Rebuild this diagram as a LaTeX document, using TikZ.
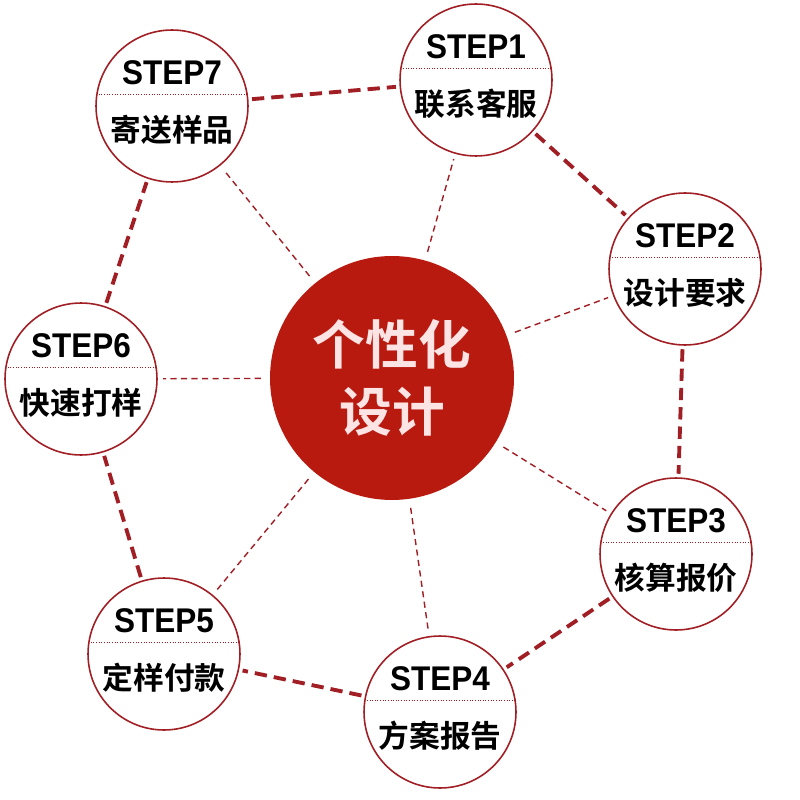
\documentclass[tikz,border=0pt]{standalone}
\usepackage{fontspec}
\setmainfont{Liberation Sans}
\newfontfamily\steptitlefont{Liberation Sans}[FakeStretch=0.92]
\newfontfamily\cjk{Noto Sans CJK SC}[BoldFont={* Bold}]
\usetikzlibrary{calc}
\definecolor{hubred}{RGB}{184,26,16}
\definecolor{ringred}{RGB}{160,30,36}
\definecolor{hubtext}{RGB}{252,228,228}
\tikzset{
stepcircle/.style={circle,draw=ringred,line width=0.9pt,fill=white,minimum size=3.04cm,inner sep=0pt},
hubcircle/.style={circle,fill=hubred,minimum size=4.88cm,inner sep=0pt,align=center,text=hubtext,font=\fontsize{30}{38}\selectfont\cjk\bfseries},
steptitle/.style={font=\fontsize{19.5}{19.5}\selectfont\steptitlefont\bfseries,inner sep=0pt},
stepname/.style={font=\fontsize{17.5}{17.5}\selectfont\cjk\bfseries,inner sep=0pt},
stepdiv/.style={ringred,line width=0.5pt,densely dotted},
ringlink/.style={ringred,line width=2.2pt,dash pattern=on 7pt off 4pt,shorten <=2pt,shorten >=2pt},
spokelink/.style={ringred,line width=0.8pt,dash pattern=on 3.5pt off 2.5pt,shorten <=5pt,shorten >=3pt}
}

\begin{document}
\begin{tikzpicture}[
x=0.02cm,
y=-0.02cm
]
\useasboundingbox (0,0) rectangle (800,800);
% hub
\node[hubcircle] (hub) at (392,378) {个性化\\设计};
% steps
\node[stepcircle] (s1) at (476,80) {};
\node[steptitle] (s1t) at ($(s1)+(0,-33)$) {STEP1};
\node[stepname] (s1n) at ($(s1)+(0,24)$) {联系客服};
\draw[stepdiv] ($(s1.west)+(1,-12)$)--($(s1.east)+(-1,-12)$);
\node[stepcircle] (s2) at (685,269) {};
\node[steptitle] (s2t) at ($(s2)+(0,-33)$) {STEP2};
\node[stepname] (s2n) at ($(s2)+(0,24)$) {设计要求};
\draw[stepdiv] ($(s2.west)+(1,-12)$)--($(s2.east)+(-1,-12)$);
\node[stepcircle] (s3) at (676,554) {};
\node[steptitle] (s3t) at ($(s3)+(0,-33)$) {STEP3};
\node[stepname] (s3n) at ($(s3)+(0,24)$) {核算报价};
\draw[stepdiv] ($(s3.west)+(1,-12)$)--($(s3.east)+(-1,-12)$);
\node[stepcircle] (s4) at (440,712) {};
\node[steptitle] (s4t) at ($(s4)+(0,-33)$) {STEP4};
\node[stepname] (s4n) at ($(s4)+(0,24)$) {方案报告};
\draw[stepdiv] ($(s4.west)+(1,-12)$)--($(s4.east)+(-1,-12)$);
\node[stepcircle] (s5) at (164,654) {};
\node[steptitle] (s5t) at ($(s5)+(0,-33)$) {STEP5};
\node[stepname] (s5n) at ($(s5)+(0,24)$) {定样付款};
\draw[stepdiv] ($(s5.west)+(1,-12)$)--($(s5.east)+(-1,-12)$);
\node[stepcircle] (s6) at (81,379) {};
\node[steptitle] (s6t) at ($(s6)+(0,-33)$) {STEP6};
\node[stepname] (s6n) at ($(s6)+(0,24)$) {快速打样};
\draw[stepdiv] ($(s6.west)+(1,-12)$)--($(s6.east)+(-1,-12)$);
\node[stepcircle] (s7) at (172,106) {};
\node[steptitle] (s7t) at ($(s7)+(0,-33)$) {STEP7};
\node[stepname] (s7n) at ($(s7)+(0,24)$) {寄送样品};
\draw[stepdiv] ($(s7.west)+(1,-12)$)--($(s7.east)+(-1,-12)$);
% ring
\draw[ringlink] (s7)--(s1);
\draw[ringlink] (s1)--(s2);
\draw[ringlink] (s2)--(s3);
\draw[ringlink] (s3)--(s4);
\draw[ringlink] (s4)--(s5);
\draw[ringlink] (s5)--(s6);
\draw[ringlink] (s6)--(s7);
% spokes
\draw[spokelink] (hub)--(s1);
\draw[spokelink] (hub)--(s2);
\draw[spokelink] (hub)--(s3);
\draw[spokelink] (hub)--(s4);
\draw[spokelink] (hub)--(s5);
\draw[spokelink] (hub)--(s6);
\draw[spokelink] (hub)--(s7);
\end{tikzpicture}
\end{document}
